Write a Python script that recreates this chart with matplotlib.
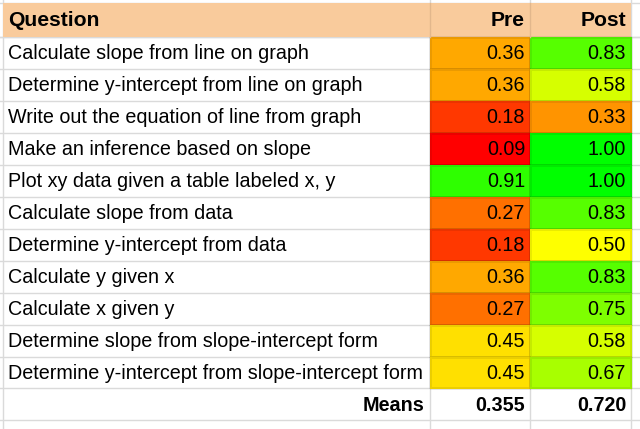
import numpy as np
import matplotlib
matplotlib.use("Agg")
import matplotlib.pyplot as plt
from matplotlib.colors import LinearSegmentedColormap, TwoSlopeNorm

questions = [
    "Calculate slope from line on graph",
    "Determine y-intercept from line on graph",
    "Write out the equation of line from graph",
    "Make an inference based on slope",
    "Plot xy data given a table labeled x, y",
    "Calculate slope from data",
    "Determine y-intercept from data",
    "Calculate y given x",
    "Calculate x given y",
    "Determine slope from slope-intercept form",
    "Determine y-intercept from slope-intercept form",
]
pre = [0.36, 0.36, 0.18, 0.09, 0.91, 0.27, 0.18, 0.36, 0.27, 0.45, 0.45]
post = [0.83, 0.58, 0.33, 1.00, 1.00, 0.83, 0.50, 0.83, 0.75, 0.58, 0.67]
headers = ["Question", "Pre", "Post"]
means = [0.355, 0.720]

plt.rcParams['font.family'] = ['Liberation Sans', 'DejaVu Sans']

W, H = 640, 429
fig = plt.figure(figsize=(6.4, 4.29), dpi=100)
ax = fig.add_axes([0, 0, 1, 1])
ax.set_xlim(0, W)
ax.set_ylim(H, 0)
ax.axis('off')

# layout (pixels)
top = 3
header_h = 34
row_h = 31.95
col_x = [3, 429.5, 530, 630.5]
grid_c = '#dadada'
fs = 14.2
fs_head = 15.2

n = len(questions)
row_edges = top + header_h + np.arange(n + 2) * row_h

# grid lines
for y in [top, top + header_h] + list(row_edges):
    ax.axhline(y, color=grid_c, lw=1.0, zorder=1)
for x in col_x:
    ax.axvline(x, color=grid_c, lw=1.0, zorder=1)

# header
ax.add_patch(plt.Rectangle((col_x[0], top), col_x[-1] - col_x[0], header_h,
                           facecolor='#f9cb9c', edgecolor='none', zorder=2))
for x in col_x[1:-1]:
    ax.plot([x, x], [top, top + header_h], color='#e2b78c', lw=1.0, zorder=3)
hy = top + header_h / 2 + 1
ax.text(8, hy, headers[0], ha='left', va='center', fontsize=fs_head, fontweight='bold', zorder=4)
ax.text(col_x[2] - 5, hy, headers[1], ha='right', va='center', fontsize=fs_head, fontweight='bold', zorder=4)
ax.text(col_x[3] - 4.5, hy, headers[2], ha='right', va='center', fontsize=fs_head, fontweight='bold', zorder=4)

# colour scale: red -> yellow -> green
cmap = LinearSegmentedColormap.from_list('ryg', ['#ff0000', '#ffff00', '#00ff00'])
norm = TwoSlopeNorm(vmin=min(pre + post), vcenter=0.5, vmax=max(pre + post))

vals = np.column_stack([pre, post])
ax.pcolormesh(col_x[1:], row_edges[:n + 1], vals, cmap=cmap, norm=norm,
              edgecolors=(0, 0, 0, 0.08), linewidth=1.0, zorder=2)

for i, q in enumerate(questions):
    yc = (row_edges[i] + row_edges[i + 1]) / 2 + 1
    ax.text(8, yc, q, ha='left', va='center', fontsize=fs, zorder=4)
    ax.text(col_x[2] - 5, yc, f"{pre[i]:.2f}", ha='right', va='center', fontsize=fs, zorder=4)
    ax.text(col_x[3] - 4.5, yc, f"{post[i]:.2f}", ha='right', va='center', fontsize=fs, zorder=4)

# means row
ym = (row_edges[n] + row_edges[n + 1]) / 2 + 1
ax.text(col_x[1] - 5, ym, "Means", ha='right', va='center', fontsize=fs, fontweight='bold', zorder=4)
ax.text(col_x[2] - 5, ym, f"{means[0]:.3f}", ha='right', va='center', fontsize=fs, fontweight='bold', zorder=4)
ax.text(col_x[3] - 4.5, ym, f"{means[1]:.3f}", ha='right', va='center', fontsize=fs, fontweight='bold', zorder=4)

fig.savefig("out.png", dpi=100)
